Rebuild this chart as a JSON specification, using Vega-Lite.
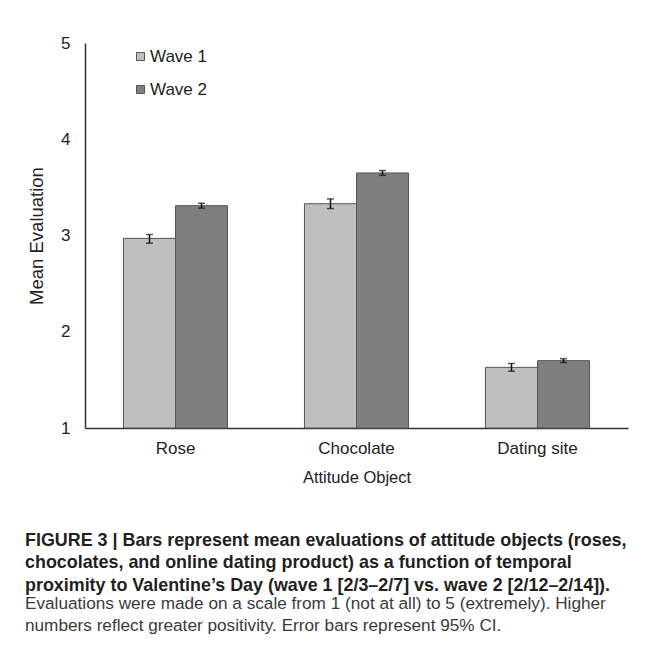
{
  "$schema": "https://vega.github.io/schema/vega-lite/v6.json",
  "autosize": {"type": "none"},
  "padding": {"left": 85, "top": 43, "right": 29, "bottom": 232},
  "width": 543,
  "height": 385,
  "background": "white",
  "config": {
    "font": "Liberation Sans",
    "view": {"stroke": null}
  },
  "title": {
    "text": [
      "FIGURE 3 | Bars represent mean evaluations of attitude objects (roses,",
      "chocolates, and online dating product) as a function of temporal",
      "proximity to Valentine’s Day (wave 1 [2/3–2/7] vs. wave 2 [2/12–2/14])."
    ],
    "subtitle": [
      "Evaluations were made on a scale from 1 (not at all) to 5 (extremely). Higher",
      "numbers reflect greater positivity. Error bars represent 95% CI."
    ],
    "orient": "bottom",
    "anchor": "start",
    "frame": "group",
    "dx": -60,
    "offset": 46,
    "font": "Liberation Sans",
    "fontSize": 17.9,
    "fontWeight": "bold",
    "color": "#231f20",
    "lineHeight": 22.5,
    "subtitleFont": "Liberation Sans",
    "subtitleFontSize": 17.2,
    "subtitleColor": "#3a3a3a",
    "subtitleLineHeight": 21.5,
    "subtitlePadding": 1
  },
  "data": {
    "values": [
      {"object": "Rose", "wave": "Wave 1", "mean": 2.97, "lo": 2.92, "hi": 3.01},
      {"object": "Rose", "wave": "Wave 2", "mean": 3.31, "lo": 3.285, "hi": 3.335},
      {"object": "Chocolate", "wave": "Wave 1", "mean": 3.33, "lo": 3.28, "hi": 3.38},
      {"object": "Chocolate", "wave": "Wave 2", "mean": 3.65, "lo": 3.625, "hi": 3.675},
      {"object": "Dating site", "wave": "Wave 1", "mean": 1.63, "lo": 1.59, "hi": 1.67},
      {"object": "Dating site", "wave": "Wave 2", "mean": 1.70, "lo": 1.68, "hi": 1.72}
    ]
  },
  "encoding": {
    "x": {
      "field": "object",
      "type": "nominal",
      "sort": ["Rose", "Chocolate", "Dating site"],
      "scale": {"paddingInner": 0.425, "paddingOuter": 0.2125},
      "axis": {
        "title": "Attitude Object",
        "labelAngle": 0,
        "labelFontSize": 17,
        "labelColor": "#222",
        "labelPadding": 12,
        "ticks": false,
        "domainColor": "#333",
        "domainWidth": 1.5,
        "titleFontSize": 16.5,
        "titleFontWeight": "normal",
        "titleColor": "#222",
        "titlePadding": 13
      }
    },
    "xOffset": {
      "field": "wave",
      "type": "nominal",
      "scale": {"paddingInner": 0, "paddingOuter": 0}
    }
  },
  "layer": [
    {
      "mark": {"type": "bar", "stroke": "#555555", "strokeWidth": 1},
      "encoding": {
        "y": {
          "field": "mean",
          "type": "quantitative",
          "scale": {"domain": [1, 5], "zero": false, "nice": false},
          "axis": {
            "title": "Mean Evaluation",
            "values": [1, 2, 3, 4, 5],
            "format": "d",
            "grid": false,
            "ticks": false,
            "labelFontSize": 17,
            "labelColor": "#222",
            "labelPadding": 15,
            "domainColor": "#333",
            "domainWidth": 1.5,
            "titleFontSize": 18.5,
            "titleFontWeight": "normal",
            "titleColor": "#222",
            "titlePadding": 14
          }
        },
        "y2": {"datum": 1},
        "fill": {
          "field": "wave",
          "type": "nominal",
          "scale": {"domain": ["Wave 1", "Wave 2"], "range": ["#bfbfbf", "#7f7f7f"]},
          "legend": {
            "title": null,
            "orient": "none",
            "legendX": 47,
            "legendY": 5,
            "symbolType": "square",
            "symbolSize": 64,
            "symbolStrokeColor": "#555",
            "symbolStrokeWidth": 1,
            "labelFontSize": 17,
            "labelColor": "#222",
            "labelOffset": 1,
            "rowPadding": 15
          }
        }
      }
    },
    {
      "mark": {"type": "rule", "color": "#111", "strokeWidth": 1.5},
      "encoding": {
        "y": {"field": "lo", "type": "quantitative"},
        "y2": {"field": "hi"}
      }
    },
    {
      "mark": {"type": "tick", "color": "#111", "thickness": 1.5, "size": 7},
      "encoding": {"y": {"field": "lo", "type": "quantitative"}}
    },
    {
      "mark": {"type": "tick", "color": "#111", "thickness": 1.5, "size": 7},
      "encoding": {"y": {"field": "hi", "type": "quantitative"}}
    }
  ]
}
